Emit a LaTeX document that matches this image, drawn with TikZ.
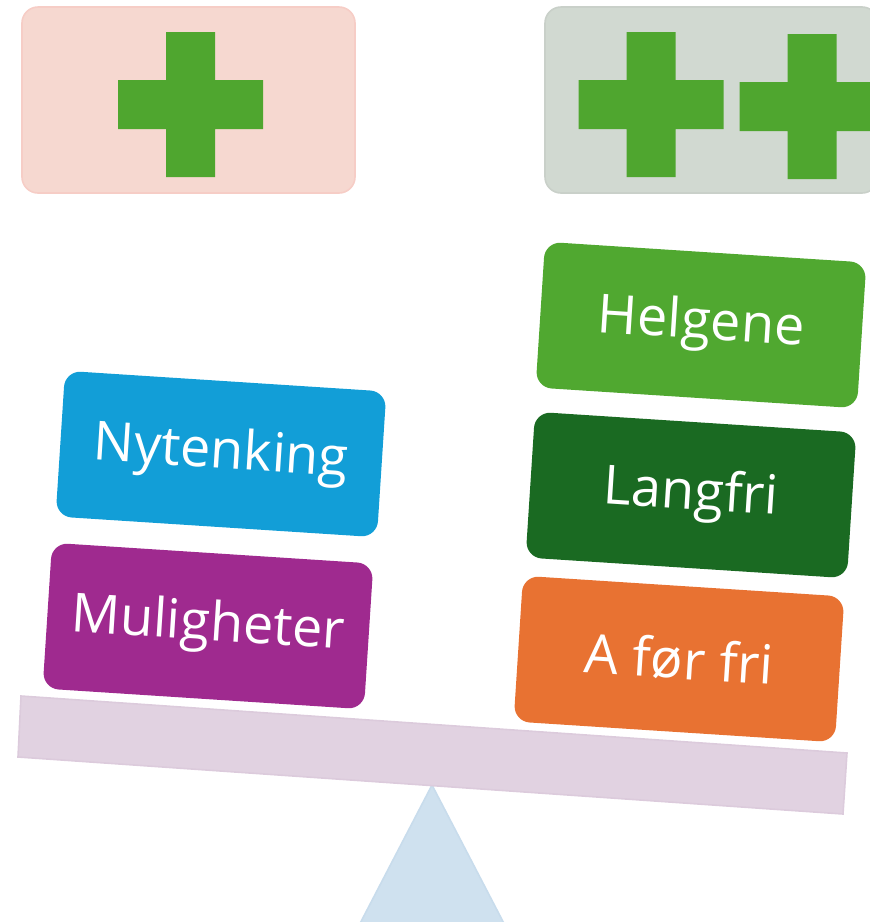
\documentclass[tikz,border=0pt]{standalone}
\usepackage{fontspec}
\setmainfont{Open Sans}
\usetikzlibrary{positioning}

\definecolor{panelpink}{HTML}{F6D8D0}
\definecolor{panelgrey}{HTML}{D1D9D1}
\definecolor{plusgreen}{HTML}{4FA62F}
\definecolor{newblue}{HTML}{129ED7}
\definecolor{chancepurple}{HTML}{9F2A8F}
\definecolor{weekendgreen}{HTML}{50A830}
\definecolor{longgreen}{HTML}{1A6A22}
\definecolor{aorange}{HTML}{E87232}
\definecolor{beamlilac}{HTML}{E1D2E1}
\definecolor{beamedge}{HTML}{DCCBDC}
\definecolor{pivotblue}{HTML}{CFE1EF}
\definecolor{pivotedge}{HTML}{C8DCEC}

\begin{document}
\begin{tikzpicture}[
  x=0.5pt, y=-0.5pt,
  font=\fontsize{27}{31}\selectfont,
  panel/.style={
    rounded corners=8pt,
    minimum width=166.5pt,
    minimum height=93pt,
    inner sep=0pt,
    line width=0.8pt
  },
  weight/.style={
    rounded corners=8pt,
    text=white,
    minimum width=161pt,
    minimum height=73pt,
    inner sep=0pt,
    rotate=-3.7
  }
]
\useasboundingbox (0,0) rectangle (870,922);
\clip (0,0) rectangle (870,922);

% top panels
\node[panel,fill=panelpink,draw=panelpink!95!red] (single) at (188.5,100) {};
\node[panel,fill=panelgrey,draw=panelgrey!96!black] (double) at (711.5,100) {};
\foreach \cx/\cy in {190.5/104.5, 651/104.5, 812/106.5}
  \fill[plusgreen] (\cx-72.5,\cy-24.5) rectangle (\cx+72.5,\cy+24.5)
                   (\cx-24.5,\cy-72.5) rectangle (\cx+24.5,\cy+72.5);

% pivot and beam
\filldraw[fill=pivotblue,draw=pivotedge,line width=0.8pt]
  (432,785) -- (523,960) -- (341,960) -- cycle;
\filldraw[fill=beamlilac,draw=beamedge,line width=0.8pt]
  (21,696) -- (847,753) -- (843,814) -- (18,757) -- cycle;

% left side
\node[weight,fill=newblue] (nytenking) at (221,454) {Nytenking};
\node[weight,fill=chancepurple] (muligheter) at (208,626) {Muligheter};

% right side
\node[weight,fill=weekendgreen] (helgene) at (701,325) {Helgene};
\node[weight,fill=longgreen] (langfri) at (691,495) {Langfri};
\node[weight,fill=aorange] (afoerfri) at (679,659) {A før fri};
\end{tikzpicture}
\end{document}
